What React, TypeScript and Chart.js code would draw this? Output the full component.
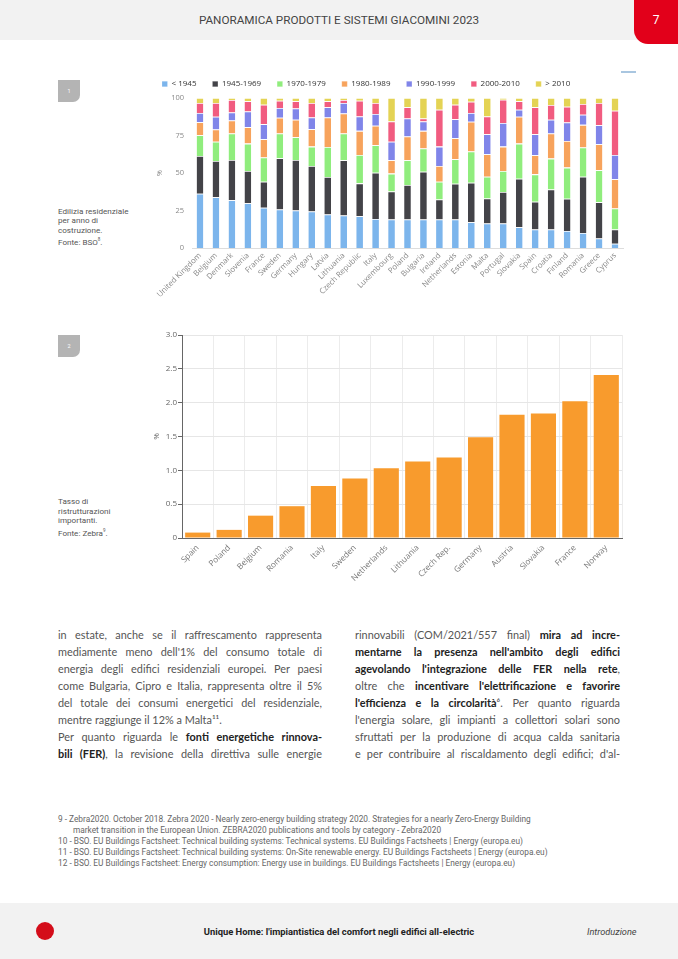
import React, { useEffect, useRef } from "react";
import { Chart, registerables } from "chart.js";

Chart.register(...registerables);

// ---------- Chart 1 data: residential buildings by construction year ----------
const countries1 = [
  "United Kingdom", "Belgium", "Denmark", "Slovenia", "France", "Sweden", "Germany",
  "Hungary", "Latvia", "Lithuania", "Czech Republic", "Italy", "Luxembourg", "Poland",
  "Bulgaria", "Ireland", "Netherlands", "Estonia", "Malta", "Portugal", "Slovakia",
  "Spain", "Croatia", "Finland", "Romania", "Greece", "Cyprus",
];
const seriesNames = ["< 1945", "1945-1969", "1970-1979", "1980-1989", "1990-1999", "2000-2010", "> 2010"];
const seriesColors = ["#7cb5ec", "#434348", "#90ed7d", "#f7a35c", "#8085e9", "#f15c80", "#e4d354"];
const before1945 = [36.2, 33.9, 31.9, 29.9, 26.8, 25.7, 25.0, 24.3, 22.3, 21.7, 21.2, 19.4, 19.0, 19.0, 19.0, 19.0, 19.0, 17.2, 16.3, 16.3, 13.8, 12.3, 12.3, 11.4, 10.0, 6.3, 2.9];
const y1945_1969 = [25.2, 24.1, 26.8, 21.4, 17.4, 34.1, 33.7, 30.4, 25.0, 36.8, 21.9, 30.8, 18.7, 23.0, 31.9, 13.4, 23.9, 26.3, 16.7, 21.0, 32.4, 18.5, 26.7, 21.4, 37.5, 24.3, 9.4];
const y1970_1979 = [13.8, 12.8, 17.6, 18.3, 16.1, 16.5, 15.2, 12.9, 20.1, 17.8, 18.9, 18.3, 11.9, 16.5, 15.4, 11.8, 16.3, 20.8, 14.5, 14.0, 23.4, 18.3, 20.6, 20.8, 19.5, 21.2, 14.0];
const y1980_1989 = [8.7, 8.2, 8.7, 11.0, 12.2, 10.5, 11.6, 11.6, 19.6, 13.4, 16.1, 13.0, 8.9, 15.8, 11.8, 10.5, 14.0, 19.9, 15.0, 16.3, 17.9, 12.7, 16.7, 17.8, 15.1, 17.4, 19.5];
const y1990_1999 = [6.1, 8.5, 5.4, 10.4, 10.1, 6.5, 7.5, 7.8, 6.8, 7.0, 9.6, 7.8, 12.3, 12.1, 6.3, 12.9, 12.7, 5.8, 13.4, 15.7, 4.7, 14.1, 9.2, 12.3, 6.7, 12.7, 16.2];
const y2000_2010 = [6.7, 9.2, 8.3, 6.8, 12.9, 4.9, 4.8, 9.7, 4.0, 2.0, 10.5, 7.4, 13.6, 7.4, 2.0, 24.6, 9.6, 7.5, 11.8, 15.6, 5.6, 17.9, 9.8, 10.5, 7.2, 14.8, 29.5];
const after2010 = [3.3, 3.3, 1.3, 2.2, 4.5, 1.8, 2.2, 3.3, 2.2, 1.3, 1.8, 3.3, 15.6, 6.2, 13.6, 7.8, 4.5, 2.5, 12.3, 1.1, 2.2, 6.2, 4.7, 5.8, 4.0, 3.3, 8.5];
const seriesValues = [before1945, y1945_1969, y1970_1979, y1980_1989, y1990_1999, y2000_2010, after2010];
const yTicks1 = [0, 25, 50, 75, 100];

// ---------- Chart 2 data: major renovation rate ----------
const countries2 = ["Spain", "Poland", "Belgium", "Romania", "Italy", "Sweden", "Netherlands", "Lithuania", "Czech Rep.", "Germany", "Austria", "Slovakia", "France", "Norway"];
const renovationRate = [0.08, 0.12, 0.33, 0.47, 0.77, 0.88, 1.03, 1.13, 1.19, 1.49, 1.82, 1.84, 2.02, 2.41];
const yTicks2 = [0, 0.5, 1.0, 1.5, 2.0, 2.5, 3.0];

const FONT = "'Open Sans', sans-serif";

function StackedChart() {
  const ref = useRef<HTMLCanvasElement>(null);
  useEffect(() => {
    const chart = new Chart(ref.current!, {
      type: "bar",
      data: {
        labels: countries1,
        datasets: seriesNames.map((name, i) => ({
          label: name,
          data: seriesValues[i],
          backgroundColor: seriesColors[i],
          borderColor: "#ffffff",
          borderWidth: { top: 0.8, left: 0, right: 0, bottom: 0 },
          borderSkipped: false,
          categoryPercentage: 1,
          barPercentage: 0.42,
        })),
      },
      options: {
        animation: false,
        responsive: false,
        layout: { padding: { right: 19, left: 0, top: 0, bottom: 0 } },
        plugins: {
          legend: {
            position: "top",
            align: "start",
            labels: {
              boxWidth: 5.5,
              boxHeight: 5.5,
              padding: 16,
              color: "#333",
              font: { size: 8, family: FONT },
            },
          },
          tooltip: { enabled: false },
        },
        scales: {
          x: {
            stacked: true,
            grid: { display: false, drawTicks: false },
            border: { display: true, color: "#dddddd" },
            ticks: {
              autoSkip: false,
              maxRotation: 45,
              minRotation: 45,
              padding: 3,
              color: "#888",
              font: { size: 7.8, family: FONT },
            },
            afterFit: (s: any) => { s.height = 58; },
          },
          y: {
            stacked: true,
            min: 0,
            max: 100,
            afterBuildTicks: (s: any) => { s.ticks = yTicks1.map((v) => ({ value: v })); },
            grid: { display: false, drawTicks: false },
            border: { display: false },
            ticks: { padding: 8, color: "#888", font: { size: 7.5, family: FONT } },
            title: { display: true, text: "%", color: "#888", font: { size: 7, family: FONT }, padding: { top: 10, bottom: 0 } },
            afterFit: (s: any) => { s.width = 46; },
          },
        },
      },
    } as any);
    return () => chart.destroy();
  }, []);
  return <canvas ref={ref} width={496} height={242} style={{ position: "absolute", left: 146, top: 64 }} />;
}

function RenovationChart() {
  const ref = useRef<HTMLCanvasElement>(null);
  useEffect(() => {
    const chart = new Chart(ref.current!, {
      type: "bar",
      data: {
        labels: countries2,
        datasets: [
          {
            label: "Tasso di ristrutturazioni importanti",
            data: renovationRate,
            backgroundColor: "#f89b2d",
            categoryPercentage: 0.8,
            barPercentage: 1,
          },
        ],
      },
      options: {
        animation: false,
        responsive: false,
        layout: { padding: { right: 18, top: 13, left: 0, bottom: 0 } },
        plugins: { legend: { display: false }, tooltip: { enabled: false } },
        scales: {
          x: {
            grid: { color: "#ececec", drawTicks: false, offset: true },
            border: { color: "#666" },
            ticks: {
              autoSkip: false,
              maxRotation: 45,
              minRotation: 45,
              padding: 5,
              color: "#777",
              font: { size: 8.2, family: FONT },
            },
            afterFit: (s: any) => { s.height = 54; },
          },
          y: {
            min: 0,
            max: 3,
            afterBuildTicks: (s: any) => { s.ticks = yTicks2.map((v) => ({ value: v })); },
            grid: { color: "#e6e6e6", tickLength: 4, tickColor: "#666", drawTicks: true },
            border: { color: "#666" },
            ticks: {
              padding: 1,
              color: "#666",
              font: { size: 8, family: FONT },
              callback: (v: any) => (Number(v) === 0 ? "0" : Number(v).toFixed(1)),
            },
            title: { display: true, text: "%", color: "#666", font: { size: 8, family: FONT }, padding: { top: 12, bottom: 0 } },
            afterFit: (s: any) => { s.width = 42; },
          },
        },
      },
    } as any);
    return () => chart.destroy();
  }, []);
  return <canvas ref={ref} width={500} height={270} style={{ position: "absolute", left: 140, top: 322 }} />;
}

const abs = (left: number, top: number, extra: React.CSSProperties = {}): React.CSSProperties => ({
  position: "absolute",
  left,
  top,
  ...extra,
});

const bodyFont: React.CSSProperties = {
  fontFamily: "Lato, 'Open Sans', sans-serif",
  fontSize: 10.9,
  color: "#555",
  lineHeight: "17px",
};

type Seg = [string, boolean?];
const col1: { segs: Seg[]; last?: boolean }[] = [
  { segs: [["in estate, anche se il raffrescamento rappresenta"]] },
  { segs: [["mediamente meno dell'1% del consumo totale di"]] },
  { segs: [["energia degli edifici residenziali europei. Per paesi"]] },
  { segs: [["come Bulgaria, Cipro e Italia, rappresenta oltre il 5%"]] },
  { segs: [["del totale dei consumi energetici del residenziale,"]] },
  { segs: [["mentre raggiunge il 12% a Malta"], ["¹¹", false], ["."]], last: true },
  { segs: [["Per quanto riguarda le "], ["fonti energetiche rinnova-", true]] },
  { segs: [["bili (FER)", true], [", la revisione della direttiva sulle energie"]] },
];
const col2: { segs: Seg[]; last?: boolean }[] = [
  { segs: [["rinnovabili (COM/2021/557 final) "], ["mira ad incre-", true]] },
  { segs: [["mentarne la presenza nell'ambito degli edifici", true]] },
  { segs: [["agevolando l'integrazione delle FER nella rete", true], [","]] },
  { segs: [["oltre che "], ["incentivare l'elettrificazione e favorire", true]] },
  { segs: [["l'efficienza e la circolarità", true], ["⁶"], [". Per quanto riguarda"]] },
  { segs: [["l'energia solare, gli impianti a collettori solari sono"]] },
  { segs: [["sfruttati per la produzione di acqua calda sanitaria"]] },
  { segs: [["e per contribuire al riscaldamento degli edifici; d'al-"]] },
];

function Column({ left, width, lines }: { left: number; width: number; lines: { segs: Seg[]; last?: boolean }[] }) {
  return (
    <div style={abs(left, 625.5, { width, ...bodyFont })}>
      {lines.map((l, i) => (
        <div
          key={i}
          style={{
            textAlign: l.last ? "left" : "justify",
            textAlignLast: l.last ? "left" : "justify",
            whiteSpace: "nowrap",
            height: 17,
          } as React.CSSProperties}
        >
          {l.segs.map(([t, b], j) => (
            <span key={j} style={b ? { fontWeight: 700, color: "#222" } : {}}>
              {t}
            </span>
          ))}
        </div>
      ))}
    </div>
  );
}

const footnotes = [
  "9 -  Zebra2020. October 2018. Zebra 2020 - Nearly zero-energy building strategy 2020. Strategies for a nearly Zero-Energy Building",
  "market transition in the European Union. ZEBRA2020 publications and tools by category - Zebra2020",
  "10 - BSO. EU Buildings Factsheet: Technical building systems: Technical systems. EU Buildings Factsheets | Energy (europa.eu)",
  "11 - BSO. EU Buildings Factsheet: Technical building systems: On-Site renewable energy. EU Buildings Factsheets | Energy (europa.eu)",
  "12 - BSO. EU Buildings Factsheet: Energy consumption: Energy use in buildings. EU Buildings Factsheets | Energy (europa.eu)",
];

const caption: React.CSSProperties = {
  fontFamily: "Roboto, sans-serif",
  fontSize: 8.1,
  color: "#555",
  lineHeight: "9.4px",
};

function NumBox({ top, n }: { top: number; n: string }) {
  return (
    <div
      style={abs(58, top, {
        width: 22,
        height: 22,
        background: "#b4b4b4",
        borderBottomRightRadius: 7,
        color: "#fff",
        fontFamily: "Roboto, sans-serif",
        fontSize: 5.5,
        lineHeight: "22px",
        textAlign: "center",
      })}
    >
      {n}
    </div>
  );
}

export default function App() {
  return (
    <div style={{ position: "absolute", left: 0, top: 0, width: 678, height: 959, background: "#fff", overflow: "hidden" }}>
      {/* header */}
      <div style={abs(0, 0, { width: 678, height: 40, background: "#f2f2f2" })} />
      <div
        style={abs(0, 13, {
          width: 678,
          textAlign: "center",
          fontFamily: "Roboto, sans-serif",
          fontSize: 11.7,
          color: "#444",
          lineHeight: "14px",
        })}
      >
        PANORAMICA PRODOTTI E SISTEMI GIACOMINI 2023
      </div>
      <div
        style={abs(634, 0, {
          width: 44,
          height: 44,
          background: "#e2001a",
          borderBottomLeftRadius: 14,
          color: "#fff",
          fontFamily: "Roboto, sans-serif",
          fontSize: 12,
          lineHeight: "40px",
          textAlign: "center",
        })}
      >
        7
      </div>

      {/* figure 1 */}
      <NumBox top={80} n="1" />
      <div style={abs(58, 207, caption)}>
        Edilizia residenziale
        <br />
        per anno di
        <br />
        costruzione.
        <br />
        Fonte: BSO<sup style={{ fontSize: 4.5 }}>8</sup>.
      </div>
      <div style={abs(621, 71, { width: 15, height: 1.5, background: "#a9c6e0" })} />
      <StackedChart />

      {/* figure 2 */}
      <NumBox top={335} n="2" />
      <div style={abs(58, 497, { ...caption, lineHeight: "9.6px" })}>
        Tasso di
        <br />
        ristrutturazioni
        <br />
        importanti.
        <br />
        Fonte: Zebra<sup style={{ fontSize: 4.5 }}>9</sup>.
      </div>
      <RenovationChart />

      {/* body text */}
      <Column left={58} width={264} lines={col1} />
      <Column left={355} width={265} lines={col2} />

      {/* footnotes */}
      <div style={abs(58, 813.5, { fontFamily: "Roboto, sans-serif", fontSize: 8.3, color: "#666", lineHeight: "11px", whiteSpace: "nowrap" })}>
        {footnotes.map((f, i) => (
          <div key={i} style={{ paddingLeft: i === 1 ? 15 : 0 }}>
            {f}
          </div>
        ))}
      </div>

      {/* footer */}
      <div style={abs(0, 903, { width: 678, height: 56, background: "#f2f2f2" })} />
      <div style={abs(36, 922, { width: 18, height: 18, borderRadius: 9, background: "#d40d1a" })} />
      <div
        style={abs(0, 926, {
          width: 678,
          textAlign: "center",
          fontFamily: "Roboto, sans-serif",
          fontWeight: 700,
          fontSize: 9.4,
          color: "#222",
          lineHeight: "12px",
        })}
      >
        Unique Home: l'impiantistica del comfort negli edifici all-electric
      </div>
      <div style={abs(587, 926, { fontFamily: "Roboto, sans-serif", fontStyle: "italic", fontSize: 9.2, color: "#444", lineHeight: "12px" })}>
        Introduzione
      </div>
    </div>
  );
}
